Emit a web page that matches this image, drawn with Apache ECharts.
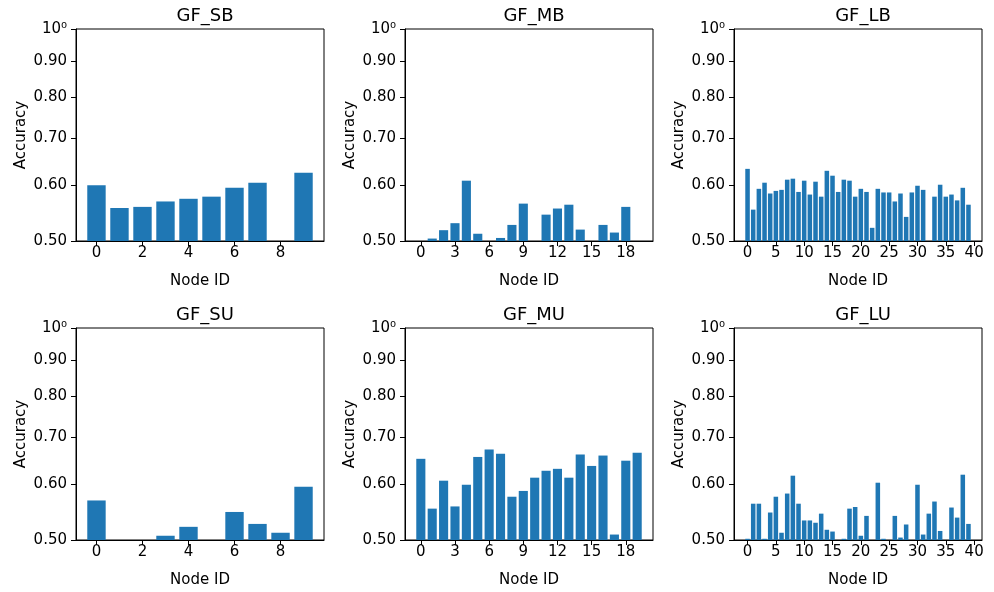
<!DOCTYPE html>
<html>
<head>
<meta charset="utf-8">
<title>GF accuracy per node</title>
<script src="https://cdn.jsdelivr.net/npm/echarts@6/dist/echarts.min.js"></script>
<style>
html, body { margin: 0; padding: 0; background: #fff; }
#main { width: 994px; height: 592px; }
</style>
</head>
<body>
<div id="main"></div>
<script>
// accuracy per node (0.50 = no visible bar)
var accSB = [0.600, 0.557, 0.559, 0.569, 0.574, 0.578, 0.595, 0.605, 0.50, 0.625];
var accMB = [0.50, 0.504, 0.518, 0.530, 0.609, 0.512, 0.50, 0.505, 0.527, 0.565,
             0.50, 0.545, 0.556, 0.563, 0.519, 0.50, 0.527, 0.514, 0.559, 0.50];
var accLB = [0.633, 0.554, 0.593, 0.605, 0.584, 0.589, 0.591, 0.611, 0.613, 0.587,
             0.609, 0.582, 0.607, 0.578, 0.629, 0.619, 0.587, 0.611, 0.609, 0.578,
             0.593, 0.587, 0.522, 0.593, 0.586, 0.586, 0.569, 0.584, 0.541, 0.586,
             0.599, 0.591, 0.50, 0.578, 0.601, 0.578, 0.582, 0.571, 0.595, 0.563];
var accSU = [0.569, 0.50, 0.50, 0.507, 0.522, 0.50, 0.548, 0.527, 0.512, 0.595];
var accMU = [0.652, 0.554, 0.607, 0.558, 0.599, 0.656, 0.672, 0.663, 0.576, 0.587,
             0.613, 0.627, 0.631, 0.613, 0.661, 0.637, 0.659, 0.509, 0.648, 0.665];
var accLU = [0.502, 0.563, 0.563, 0.502, 0.547, 0.576, 0.512, 0.582, 0.617, 0.563,
             0.533, 0.533, 0.529, 0.545, 0.517, 0.514, 0.50, 0.502, 0.554, 0.557,
             0.507, 0.541, 0.50, 0.603, 0.502, 0.50, 0.541, 0.504, 0.526, 0.50,
             0.599, 0.509, 0.545, 0.567, 0.515, 0.50, 0.556, 0.538, 0.619, 0.527];

var titles = ['GF_SB', 'GF_MB', 'GF_LB', 'GF_SU', 'GF_MU', 'GF_LU'];
var xTicksS = [0, 2, 4, 6, 8];
var xTicksM = [0, 3, 6, 9, 12, 15, 18];
var xTicksL = [0, 5, 10, 15, 20, 25, 30, 35, 40];
var yTicks = [0.5, 0.6, 0.7, 0.8, 0.9, 1.0];

var panelData = [accSB, accMB, accLB, accSU, accMU, accLU];
var panelTicks = [xTicksS, xTicksM, xTicksL, xTicksS, xTicksM, xTicksL];

var FONT = 'DejaVu Sans';
var lefts = [76, 405, 734];
var tops = [29, 328];
var W = 248, H = 212;

var myChart = echarts.init(document.getElementById('main'));
var option = { animation: false, title: [], grid: [], xAxis: [], yAxis: [], series: [] };

for (var p = 0; p < 6; p++) {
    var col = p % 3, row = Math.floor(p / 3);
    var vals = panelData[p];
    var n = vals.length;
    var pad = 0.05 * (n - 1 + 0.8);   // matplotlib 5% margin round the bars

    option.title.push({
        text: titles[p],
        left: lefts[col] + W / 2,
        top: tops[row] - 27,
        textAlign: 'center',
        textStyle: { fontFamily: FONT, fontSize: 18, fontWeight: 'normal', color: '#000' }
    });
    option.grid.push({
        left: lefts[col], top: tops[row], width: W, height: H,
        show: true, borderColor: '#000', borderWidth: 1, backgroundColor: 'transparent'
    });
    option.xAxis.push({
        gridIndex: p,
        type: 'value',
        min: -0.4 - pad,
        max: n - 1 + 0.4 + pad,
        name: 'Node ID',
        nameLocation: 'middle',
        nameGap: 33,
        nameTextStyle: { fontFamily: FONT, fontSize: 15, color: '#000' },
        axisLine: { show: true, onZero: false, lineStyle: { color: '#000', width: 1 } },
        axisTick: { show: true, length: 5, customValues: panelTicks[p], lineStyle: { color: '#000' } },
        axisLabel: { customValues: panelTicks[p], fontFamily: FONT, fontSize: 15, color: '#000', margin: 5 },
        splitLine: { show: false }
    });
    option.yAxis.push({
        gridIndex: p,
        type: 'log',
        logBase: 10,
        min: 0.5,
        max: 1,
        startValue: 0.5,
        name: 'Accuracy',
        nameLocation: 'middle',
        nameGap: 47,
        nameTextStyle: { fontFamily: FONT, fontSize: 15, color: '#000' },
        axisLine: { show: true, onZero: false, lineStyle: { color: '#000', width: 1 } },
        axisTick: { show: true, length: 5, customValues: yTicks, lineStyle: { color: '#000' } },
        axisLabel: {
            customValues: yTicks,
            fontFamily: FONT, fontSize: 15, color: '#000', margin: 9,
            formatter: function (v) {
                return v >= 0.999 ? '10\u2070' : v.toFixed(2);
            }
        },
        splitLine: { show: false }
    });
    option.series.push({
        type: 'bar',
        xAxisIndex: p,
        yAxisIndex: p,
        barWidth: '80%',
        itemStyle: { color: '#1f77b4' },
        data: vals.map(function (v, i) { return [i, v]; })
    });
}

myChart.setOption(option);
</script>
</body>
</html>
